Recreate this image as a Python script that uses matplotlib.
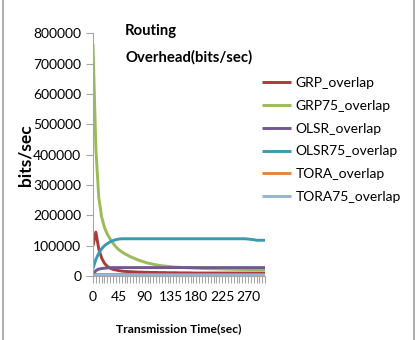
import matplotlib.pyplot as plt
from matplotlib.lines import Line2D
from matplotlib.ticker import MultipleLocator, FixedLocator

# Transmission time (sec), one point every 5 sec
time_sec = list(range(0, 305, 5))

grp = [100000, 145000, 90000, 60000, 42000, 32000, 26000, 22000, 20000, 18000,
       16500, 15500, 15000, 14500, 14000, 13500, 13000, 13000, 12500, 12500,
       12000, 12000, 12000, 11500, 11500, 11500, 11000, 11000, 11000, 11000,
       10500, 10500, 10500, 10500, 10500, 10000, 10000, 10000, 10000, 10000,
       10000, 10000, 10000, 10000, 10000, 10000, 10000, 10000, 10000, 10000,
       10000, 10000, 10000, 10000, 10000, 10000, 10000, 10000, 10000, 10000,
       10000]
grp75 = [765000, 420000, 260000, 195000, 160000, 138000, 122000, 108000, 96000, 87000,
         80000, 74000, 69000, 64000, 60000, 56000, 52000, 49000, 46000, 43000,
         41000, 39000, 37000, 35500, 34000, 33000, 32000, 31000, 30000, 29500,
         29000, 28500, 28000, 27500, 27000, 26500, 26000, 25500, 25000, 24800,
         24500, 24200, 24000, 23800, 23500, 23300, 23000, 22800, 22600, 22400,
         22200, 22000, 21800, 21600, 21500, 21400, 21300, 21200, 21100, 21000,
         21000]
olsr = [5000, 18000, 23000, 25000, 26000, 27000, 27500, 28000, 28000, 28000,
        28000, 28000, 28000, 28000, 28000, 28000, 28000, 28000, 28000, 28000,
        28000, 28000, 28000, 28000, 28000, 28000, 28000, 28000, 28000, 28000,
        28000, 28000, 28000, 28000, 28000, 28000, 28000, 28000, 28000, 28000,
        28000, 28000, 28000, 28000, 28000, 28000, 28000, 28000, 28000, 28000,
        28000, 28000, 28000, 28000, 28000, 28000, 28000, 28000, 28000, 28000,
        28000]
olsr75 = [25000, 55000, 75000, 90000, 100000, 107000, 113000, 117000, 120000, 122000,
          123000, 123000, 123000, 123000, 123000, 123000, 123000, 123000, 123000, 123000,
          123000, 123000, 123000, 123000, 123000, 123000, 123000, 123000, 123000, 123000,
          123000, 123000, 123000, 123000, 123000, 123000, 123000, 123000, 123000, 123000,
          123000, 123000, 123000, 123000, 123000, 123000, 123000, 123000, 123000, 123000,
          123000, 123000, 123000, 123000, 122000, 121000, 120000, 118000, 118000, 118000,
          118000]
tora = [3000, 5000, 5000, 5000, 5000, 5000, 5000, 5000, 5000, 5000,
        5000, 5000, 5000, 5000, 5000, 5000, 5000, 5000, 5000, 5000,
        5000, 5000, 5000, 5000, 5000, 5000, 5000, 5000, 5000, 5000,
        5000, 5000, 5000, 5000, 5000, 5000, 5000, 5000, 5000, 5000,
        5000, 5000, 5000, 5000, 5000, 5000, 5000, 5000, 5000, 5000,
        5000, 5000, 5000, 5000, 5000, 5000, 5000, 5000, 5000, 5000,
        5000]
tora75 = [1000, 2000, 2000, 2000, 2000, 2000, 2000, 2000, 2000, 2000,
          2000, 2000, 2000, 2000, 2000, 2000, 2000, 2000, 2000, 2000,
          2000, 2000, 2000, 2000, 2000, 2000, 2000, 2000, 2000, 2000,
          2000, 2000, 2000, 2000, 2000, 2000, 2000, 2000, 2000, 2000,
          2000, 2000, 2000, 2000, 2000, 2000, 2000, 2000, 2000, 2000,
          2000, 2000, 2000, 2000, 2000, 2000, 2000, 2000, 2000, 2000,
          2000]

series_names = ["GRP_overlap", "GRP75_overlap", "OLSR_overlap",
                "OLSR75_overlap", "TORA_overlap", "TORA75_overlap"]
series_vals = [grp, grp75, olsr, olsr75, tora, tora75]
colors = ["#A93C3A", "#9BBB59", "#71588F", "#3A9AB0", "#E8843F", "#95B3D7"]

font = ["Lato", "DejaVu Sans"]

fig = plt.figure(figsize=(4.17, 3.40), dpi=100)
ax = fig.add_axes([0.223, 0.188, 0.413, 0.714])

for name, vals, c in zip(series_names, series_vals, colors):
    ax.plot(time_sec, vals, color=c, lw=2.1, label=name, solid_capstyle="butt")

ax.set_xlim(0, 300)
ax.set_ylim(0, 800000)
ax.xaxis.set_major_locator(FixedLocator([0, 45, 90, 135, 180, 225, 270]))
ax.xaxis.set_minor_locator(MultipleLocator(5))
ax.yaxis.set_major_locator(MultipleLocator(100000))

for s in ["top", "right"]:
    ax.spines[s].set_visible(False)
for s in ["left", "bottom"]:
    ax.spines[s].set_color("#A6A6A6")
ax.tick_params(axis="both", which="both", color="#A6A6A6", length=5, width=0.8)
ax.tick_params(axis="x", which="major", pad=6)

for lbl in ax.get_xticklabels() + ax.get_yticklabels():
    lbl.set_family(font)
    lbl.set_fontsize(10)

ax.set_ylabel("bits/sec", family=font, fontsize=12.5, fontweight="bold",
              labelpad=0)
ax.set_xlabel("Transmission Time(sec)", family=font, fontsize=8.7,
              fontweight="bold", labelpad=14)

fig.text(0.30, 0.928, "Routing\nOverhead(bits/sec)", family=font,
         fontsize=10.7, fontweight="bold", ha="left", va="top", linespacing=2.0)

fig.legend(loc="upper left", bbox_to_anchor=(0.615, 0.79), frameon=False,
           prop={"family": font, "size": 10}, handlelength=2.1,
           handletextpad=0.3, labelspacing=0.78, borderaxespad=0)

# frame lines at the image edges
fig.add_artist(Line2D([0.008, 0.008], [0, 1], color="#A0A0A0", lw=1.2,
                      transform=fig.transFigure))
fig.add_artist(Line2D([0.992, 0.992], [0, 1], color="#A0A0A0", lw=1.2,
                      transform=fig.transFigure))

fig.savefig("out.png", dpi=100)
